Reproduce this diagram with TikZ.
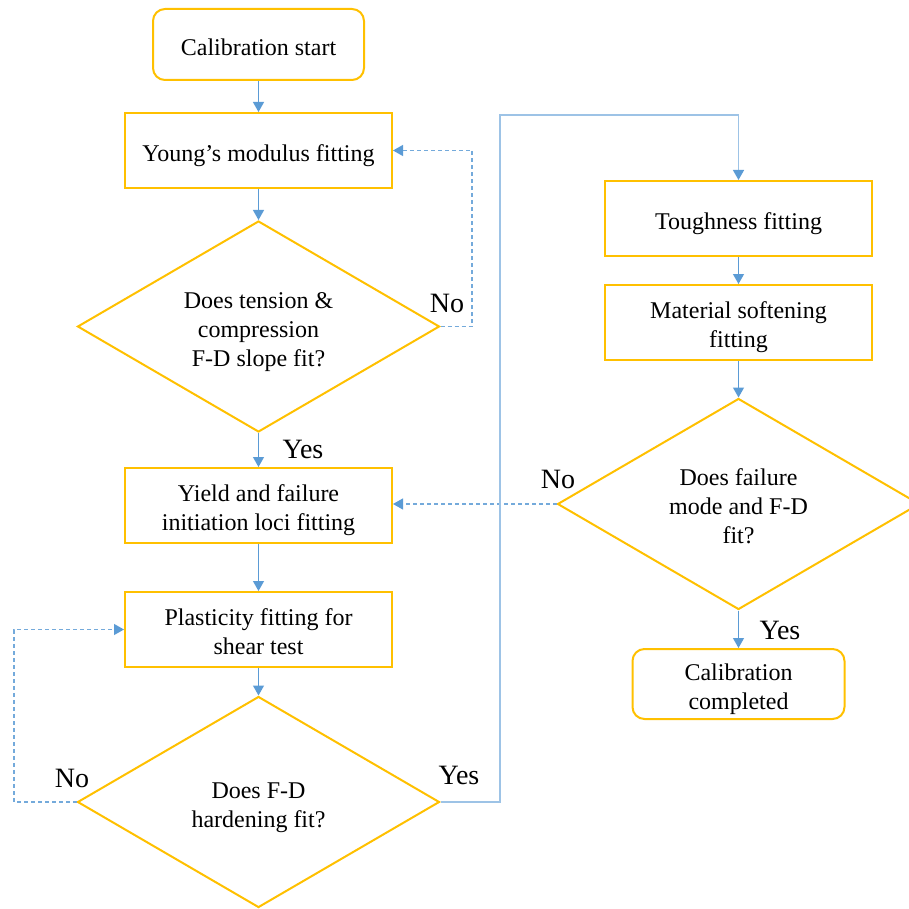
\documentclass[tikz,border=0pt]{standalone}
\usepackage{fontspec}
\setmainfont{Liberation Serif}
\usetikzlibrary{shapes.geometric,arrows.meta}
\definecolor{gold}{HTML}{FFC000}
\definecolor{lblue}{HTML}{5B9BD5}
\definecolor{pblue}{HTML}{9DC3E6}
\newcommand{\tl}[1]{\raisebox{-2.5pt}[\height][\depth]{\begin{tabular}{@{}c@{}}#1\end{tabular}}}
\begin{document}
\begin{tikzpicture}[x=0.5pt,y=-0.5pt,
  box/.style={draw=gold,line width=1pt,minimum width=133.5pt,minimum height=37.5pt,font=\fontsize{12}{14.5}\selectfont,inner sep=1pt},
  rbox/.style={box,rounded corners=6pt,minimum width=105.5pt,minimum height=35.5pt},
  dec/.style={diamond,aspect=1.7,draw=gold,line width=1pt,minimum width=181pt,minimum height=105.5pt,inner sep=0pt,font=\fontsize{12}{14.5}\selectfont},
  arr/.style={draw=lblue,line width=0.6pt,-{Triangle[length=5pt,width=5.5pt]}},
  dsh/.style={draw=lblue!85,line width=0.6pt,dash pattern=on 2pt off 1.5pt,-{Triangle[length=5pt,width=5.5pt,color=lblue]}},
  pline/.style={draw=pblue,line width=0.7pt,-{Triangle[length=5pt,width=5.5pt,color=lblue]}},
  lab/.style={font=\fontsize{14}{16}\selectfont,inner sep=0pt}
]
\useasboundingbox (0,0) rectangle (909,909);
\clip (0,0) rectangle (909,909);
\node[rbox] (start) at (258.5,44.5) {\tl{Calibration start}};
\node[box] (young) at (258.5,150.5) {\tl{Young's modulus fitting}};
\node[dec] (d1) at (258.5,326.5) {\tl{Does tension \&\\compression\\F-D slope fit?}};
\node[box] (yield) at (258.5,505.5) {\tl{Yield and failure\\initiation loci fitting}};
\node[box] (plast) at (258.5,629.5) {\tl{Plasticity fitting for\\shear test}};
\node[dec] (d2) at (258.5,802) {\tl{Does F-D\\hardening fit?}};
\node[box] (tough) at (738.5,218.5) {\tl{Toughness fitting}};
\node[box] (soft) at (738.5,322.5) {\tl{Material softening\\fitting}};
\node[dec] (d3) at (738.5,504) {\tl{Does failure\\mode and F-D\\fit?}};
\node[rbox,minimum width=106pt,minimum height=35pt] (done) at (738.5,684) {\tl{Calibration\\completed}};
\coordinate (n1) at (472,326.5);
\coordinate (n2) at (14,802);
\coordinate (y2) at (500,115);
\draw[arr] (start) -- (young);
\draw[arr] (young) -- (d1);
\draw[arr] (d1) -- (yield);
\draw[arr] (yield) -- (plast);
\draw[arr] (plast) -- (d2);
\draw[arr] (tough) -- (soft);
\draw[arr] (soft) -- (d3);
\draw[arr] (d3) -- (done);
\draw[dsh] (d1.east) -- (n1) |- (young.east);
\draw[dsh] (d2.west) -- (n2) |- (plast.west);
\draw[dsh] (d3.west) -- (d3.west -| yield.east);
\draw[pline] (d2.east) -| (y2) -| (tough.north);
\node[lab] (no1) at (447,303) {No};
\node[lab] (yes1) at (303,449) {Yes};
\node[lab] (no2) at (72,778) {No};
\node[lab] (yes2) at (459,775) {Yes};
\node[lab] (no3) at (558,479) {No};
\node[lab] (yes3) at (780,630) {Yes};
\end{tikzpicture}
\end{document}
